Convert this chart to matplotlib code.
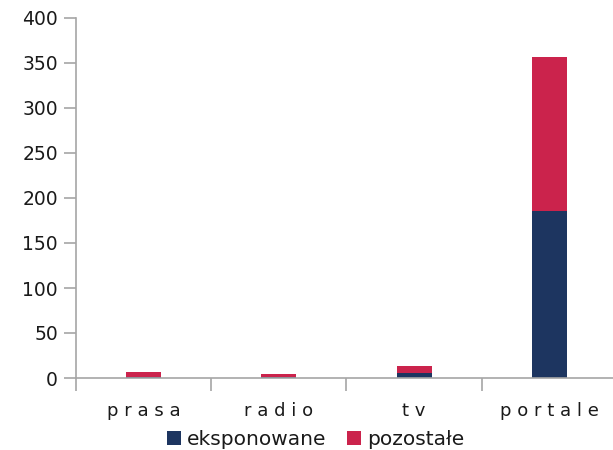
import numpy as np
import matplotlib
matplotlib.use("Agg")
import matplotlib.pyplot as plt

categories = ["prasa", "radio", "tv", "portale"]
eksponowane = [1, 1, 6, 185]
pozostale = [6, 4, 7, 172]
series_names = ["eksponowane", "pozostałe"]

navy = "#1d3560"
red = "#cb234c"
grey = "#a6a6a6"
text_col = "#1a1a1a"

plt.rcParams["font.family"] = ["DejaVu Sans"]

fig = plt.figure(figsize=(6.13, 4.5), dpi=100)
ax = fig.add_axes([0.124, 0.16, 0.8825, 0.80])

x = np.arange(len(categories))
w = 0.26
ax.bar(x, eksponowane, w, color=navy, label=series_names[0])
ax.bar(x, pozostale, w, bottom=eksponowane, color=red, label=series_names[1])

ax.set_xlim(-0.5, len(categories) - 0.5)
ax.set_ylim(0, 400)
ax.set_yticks(np.arange(0, 401, 50))

# category labels in the middle, ticks on the boundaries
ax.set_xticks(x)
ax.set_xticklabels([" ".join(c) for c in categories], fontsize=13)
ax.tick_params(axis="x", which="major", length=0, pad=17)
ax.set_xticks(np.arange(-0.5, len(categories)), minor=True)
ax.tick_params(axis="x", which="minor", length=9, width=1.2, color=grey)
ax.tick_params(axis="y", length=9, width=1.2, color=grey, pad=4, labelsize=13.5)
ax.tick_params(labelcolor=text_col)

for s in ["top", "right"]:
    ax.spines[s].set_visible(False)
for s in ["left", "bottom"]:
    ax.spines[s].set_color(grey)
    ax.spines[s].set_linewidth(1.2)

fig.legend(loc="lower center", bbox_to_anchor=(0.515, -0.038), ncol=2, frameon=False,
           fontsize=14.5, handlelength=0.7, handleheight=0.7, handletextpad=0.3,
           columnspacing=1.0, labelcolor=text_col)

fig.savefig("out.png", dpi=100)
